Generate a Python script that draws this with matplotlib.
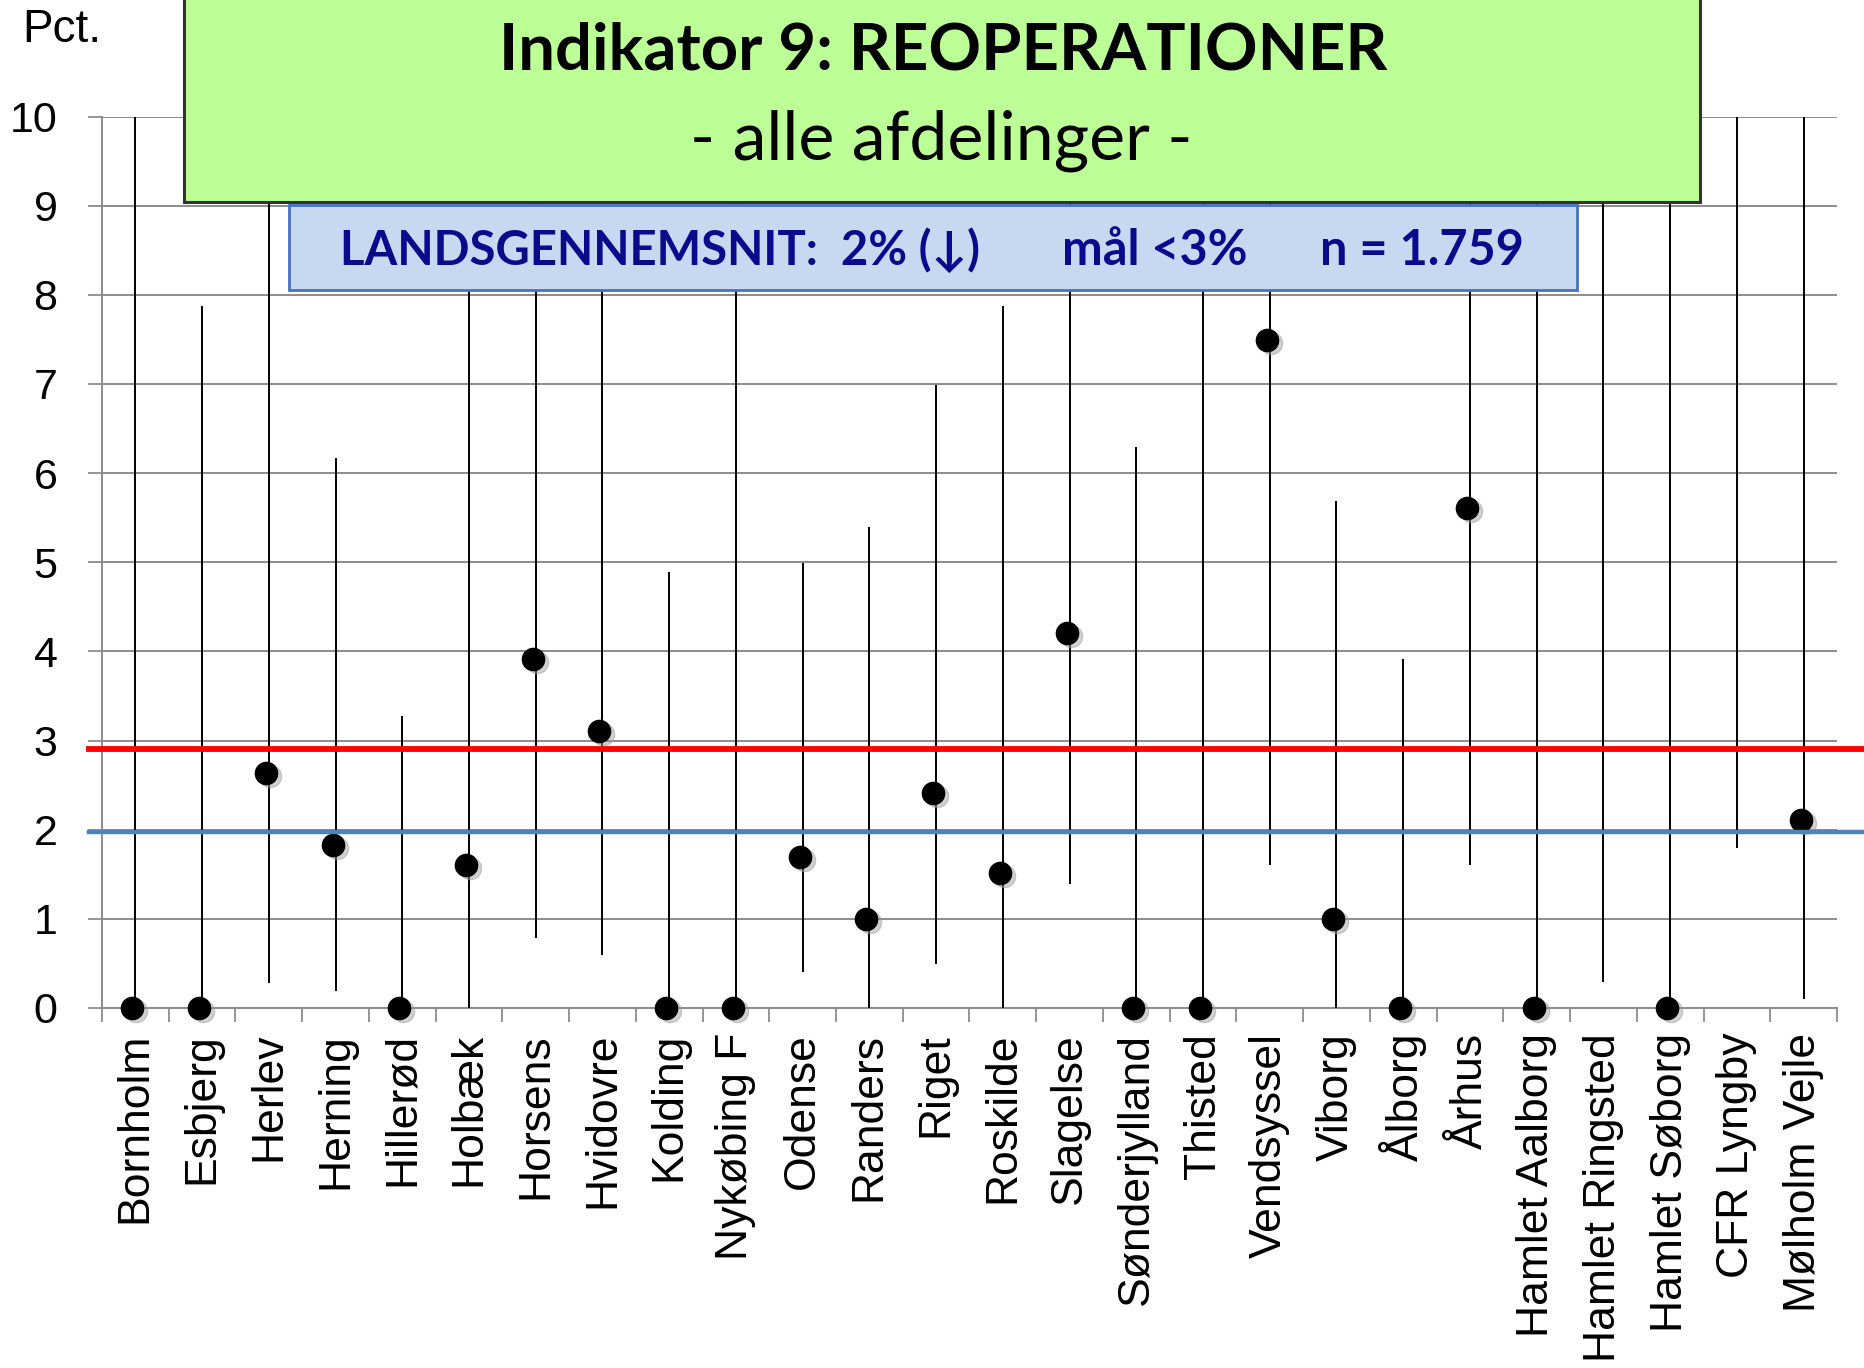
import matplotlib
matplotlib.use("Agg")
import matplotlib.pyplot as plt
import matplotlib.transforms as mtransforms
from matplotlib.patches import Rectangle
import numpy as np

# Afdelinger og reoperationsrate (pct.) med 95% konfidensinterval
afdelinger = ['Bornholm', 'Esbjerg', 'Herlev', 'Herning', 'Hillerød', 'Holbæk',
              'Horsens', 'Hvidovre', 'Kolding', 'Nykøbing F', 'Odense', 'Randers',
              'Riget', 'Roskilde', 'Slagelse', 'Sønderjylland', 'Thisted',
              'Vendsyssel', 'Viborg', 'Ålborg', 'Århus', 'Hamlet Aalborg',
              'Hamlet Ringsted', 'Hamlet Søborg', 'CFR Lyngby', 'Mølholm Vejle']
andel = [0, 0, 2.64, 1.83, 0, 1.6, 3.91, 3.11, 0, 0, 1.69, 1.0, 2.41, 1.51,
         4.21, 0, 0, 7.49, 1.0, 0, 5.61, 0, np.nan, 0, np.nan, 2.11]
ci_nedre = [0, 0, 0.28, 0.19, 0, 0, 0.79, 0.59, 0, 0, 0.4, 0, 0.49, 0,
            1.39, 0, 0, 1.6, 0, 0, 1.6, 0, 0.29, 0, 1.79, 0.1]
ci_oevre = [10, 7.88, 10, 6.17, 3.27, 8.6, 10, 8.6, 4.89, 10, 4.99, 5.4, 6.99,
            7.88, 10, 6.29, 10, 10, 5.69, 3.91, 10, 10, 10, 10, 10, 10]

maal = 2.91
landsgennemsnit = 1.97

grid_farve = '#8c8c8c'

fig = plt.figure(figsize=(18.64, 13.68), dpi=100)
ax = fig.add_axes([0.0547, 0.2632, 0.9308, 0.6516])

x = np.arange(len(afdelinger))

ax.vlines(x, ci_nedre, ci_oevre, color='black', lw=1.4, zorder=3)

# punkter med lille skygge
skygge = mtransforms.offset_copy(ax.transData, fig=fig, x=1, y=-3, units='dots')
ax.plot(x, andel, 'o', ms=16, color='#999999', alpha=0.45, transform=skygge,
        zorder=3.5, clip_on=False)
prik = mtransforms.offset_copy(ax.transData, fig=fig, x=-3, y=0, units='dots')
ax.plot(x, andel, 'o', ms=16, color='black', transform=prik, zorder=4,
        clip_on=False)

# mål og landsgennemsnit, trukket ud over akserne
trans = mtransforms.blended_transform_factory(ax.transAxes, ax.transData)
ax.plot([-0.0075, 1.02], [maal, maal], color='#ff0000', lw=4.2,
        transform=trans, clip_on=False, zorder=5)
ax.plot([-0.0075, 1.02], [landsgennemsnit, landsgennemsnit], color='#4f81bd',
        lw=3.2, transform=trans, clip_on=False, zorder=5)

ax.set_xlim(-0.5, len(afdelinger) - 0.5)
ax.set_ylim(0, 10)
ax.set_yticks(range(0, 11))
ax.set_xticks(x)
ax.set_xticklabels(afdelinger, rotation=90, fontsize=32,
                   family=['Liberation Sans', 'DejaVu Sans'])
ax.set_xticks(np.arange(-0.5, len(afdelinger)), minor=True)
ax.tick_params(axis='x', which='major', length=0, pad=18)
ax.tick_params(axis='x', which='minor', length=10, width=1.3, color=grid_farve)
ax.tick_params(axis='y', length=10, width=1.3, color=grid_farve, pad=22,
               labelsize=31)
for lab in ax.get_yticklabels():
    lab.set_family(['Liberation Sans', 'DejaVu Sans'])

ax.grid(axis='y', color=grid_farve, lw=1.4, zorder=1)
ax.set_axisbelow(True)
for side in ['top', 'right']:
    ax.spines[side].set_visible(False)
for side in ['left', 'bottom']:
    ax.spines[side].set_color(grid_farve)
    ax.spines[side].set_linewidth(1.4)

fig.text(0.012, 0.978, 'Pct.', fontsize=33, va='center', ha='left',
         family='Liberation Sans')

# titelboks
gron = Rectangle((0.0987, 0.8523), 0.8133, 0.16, transform=fig.transFigure,
                 facecolor='#bbff96', edgecolor='#333333', lw=2.2, zorder=10)
fig.add_artist(gron)
fig.text(0.506, 0.963, 'Indikator 9: REOPERATIONER', fontsize=47,
         fontweight='bold', ha='center', va='center', family='Lato', zorder=11)
fig.text(0.505, 0.897, '- alle afdelinger -', fontsize=49, ha='center',
         va='center', family='Lato', zorder=11)

# boks med landsgennemsnit
blaa = Rectangle((0.155, 0.788), 0.691, 0.0625, transform=fig.transFigure,
                 facecolor='#c6d9f1', edgecolor='#4472c4', lw=2, zorder=10)
fig.add_artist(blaa)
tekst_farve = '#0a0a8c'
fig.text(0.354, 0.817, 'LANDSGENNEMSNIT:  2% (↓)', fontsize=34,
         fontweight='bold', ha='center', va='center', color=tekst_farve,
         family=['Lato', 'DejaVu Sans'], zorder=11)
fig.text(0.6196, 0.817, 'mål <3%', fontsize=35, fontweight='bold',
         ha='center', va='center', color=tekst_farve, family='Lato', zorder=11)
fig.text(0.763, 0.817, 'n = 1.759', fontsize=35, fontweight='bold',
         ha='center', va='center', color=tekst_farve, family='Lato', zorder=11)

fig.savefig('out.png', dpi=100)
